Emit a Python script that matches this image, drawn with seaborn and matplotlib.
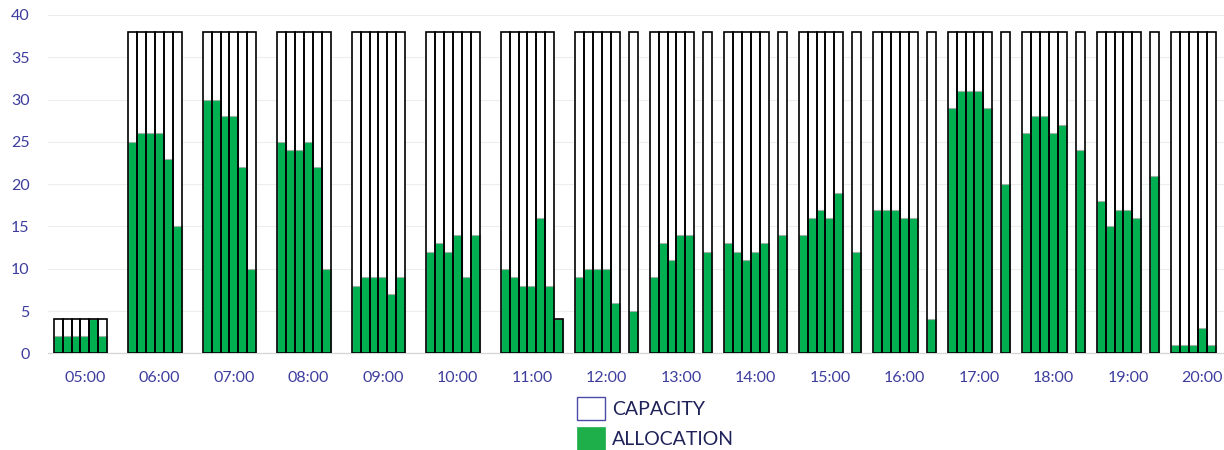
import numpy as np
import pandas as pd
import matplotlib
matplotlib.use("Agg")
import matplotlib.pyplot as plt
import seaborn as sns
from matplotlib.patches import Patch
from matplotlib.ticker import FixedLocator

# ---------------- data ----------------
hours = ["05:00", "06:00", "07:00", "08:00", "09:00", "10:00", "11:00", "12:00",
         "13:00", "14:00", "15:00", "16:00", "17:00", "18:00", "19:00", "20:00"]
slots = ["S1", "S2", "S3", "S4", "S5", "S6", "S7"]

N = None
capacity = [
    [4, 4, 4, 4, 4, 4, N],
    [38, 38, 38, 38, 38, 38, N],
    [38, 38, 38, 38, 38, 38, N],
    [38, 38, 38, 38, 38, 38, N],
    [38, 38, 38, 38, 38, 38, N],
    [38, 38, 38, 38, 38, 38, N],
    [38, 38, 38, 38, 38, 38, 4],
    [38, 38, 38, 38, 38, N, 38],
    [38, 38, 38, 38, 38, N, 38],
    [38, 38, 38, 38, 38, N, 38],
    [38, 38, 38, 38, 38, N, 38],
    [38, 38, 38, 38, 38, N, 38],
    [38, 38, 38, 38, 38, N, 38],
    [38, 38, 38, 38, 38, N, 38],
    [38, 38, 38, 38, 38, N, 38],
    [38, 38, 38, 38, 38, N, N],
]
allocation = [
    [2, 2, 2, 2, 4, 2, N],
    [25, 26, 26, 26, 23, 15, N],
    [30, 30, 28, 28, 22, 10, N],
    [25, 24, 24, 25, 22, 10, N],
    [8, 9, 9, 9, 7, 9, N],
    [12, 13, 12, 14, 9, 14, N],
    [10, 9, 8, 8, 16, 8, 4],
    [9, 10, 10, 10, 6, N, 5],
    [9, 13, 11, 14, 14, N, 12],
    [13, 12, 11, 12, 13, N, 14],
    [14, 16, 17, 16, 19, N, 12],
    [17, 17, 17, 16, 16, N, 4],
    [29, 31, 31, 31, 29, N, 20],
    [26, 28, 28, 26, 27, N, 24],
    [18, 15, 17, 17, 16, N, 21],
    [1, 1, 1, 3, 1, N, N],
]

rows = []
for h, caps, allocs in zip(hours, capacity, allocation):
    for s, c, a in zip(slots, caps, allocs):
        if c is not None:
            rows.append({"hour": h, "slot": s, "capacity": c, "allocation": a})
df = pd.DataFrame(rows)

# ---------------- style ----------------
sns.set_style("white")
plt.rcParams["font.family"] = ["Lato", "DejaVu Sans"]

GREEN = "#00AF50"
LABEL = "#3D3D9E"

fig = plt.figure(figsize=(12.24, 4.5), dpi=100)
ax = fig.add_axes([47.7 / 1224, 96.7 / 450, (1224 - 47.7) / 1224, 338.3 / 450])

W = 0.837
common = dict(x="hour", hue="slot", order=hours, hue_order=slots, width=W,
              legend=False, errorbar=None, saturation=1, ax=ax)

# white fill of capacity bars
sns.barplot(data=df, y="capacity", palette={s: "white" for s in slots},
            edgecolor="none", linewidth=0, zorder=2, **common)
# allocation bars
sns.barplot(data=df, y="allocation", palette={s: GREEN for s in slots},
            edgecolor="#9db3a5", linewidth=0.8, zorder=3, **common)
# capacity outlines on top
sns.barplot(data=df, y="capacity", palette={s: "black" for s in slots},
            fill=False, linewidth=1.2, zorder=4, **common)

ax.set_xlim(-0.5, (1224 - 47.7) / 74.5 - 0.5)
ax.set_ylim(0, 40)
ax.set_yticks(range(0, 41, 5))
ax.set_xlabel("")
ax.set_ylabel("")

ax.yaxis.grid(True, color="#EDEDED", linewidth=0.8, zorder=0)
ax.set_axisbelow(True)
for sp in ["top", "right", "left"]:
    ax.spines[sp].set_visible(False)
ax.spines["bottom"].set_color("#D6D6D6")
ax.spines["bottom"].set_linewidth(0.9)
ax.spines["bottom"].set_zorder(1)

ax.xaxis.set_minor_locator(FixedLocator(np.arange(-0.5, 16, 1.0)))
ax.tick_params(axis="x", which="minor", length=4, color="#D6D6D6", width=0.9,
               direction="out")
ax.tick_params(axis="x", which="major", length=0, pad=13, labelsize=11.5,
               labelcolor=LABEL)
ax.tick_params(axis="y", length=0, pad=13, labelsize=11.5, labelcolor=LABEL)

handles = [Patch(facecolor="white", edgecolor="#4A4AA8", linewidth=1.0, label="CAPACITY"),
           Patch(facecolor="#1EAE4A", edgecolor="#1EAE4A", linewidth=0.5, label="ALLOCATION")]
leg = fig.legend(handles=handles, loc="upper left",
                 bbox_to_anchor=(577 / 1224, (450 - 397) / 450),
                 frameon=False, fontsize=14, handlelength=1.45, handleheight=1.45,
                 handletextpad=0.35, labelspacing=0.35, borderpad=0, borderaxespad=0)
for t in leg.get_texts():
    t.set_color("#1F2258")

fig.savefig("out.png", dpi=100)
